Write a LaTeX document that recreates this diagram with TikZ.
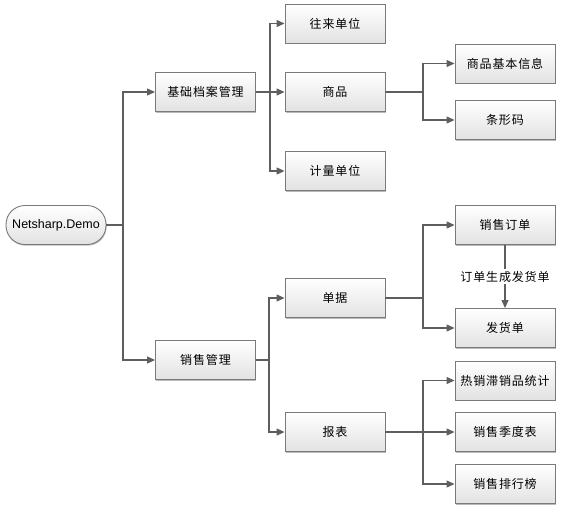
\documentclass[tikz,border=0pt]{standalone}
\usepackage{fontspec}
\setmainfont{Liberation Sans}
\newfontfamily\cjk[LetterSpace=7]{Noto Sans CJK SC}
\usetikzlibrary{arrows.meta,shadows}
\definecolor{linegray}{HTML}{5E5E5E}
\definecolor{boxborder}{HTML}{7A7A7A}
\definecolor{boxbottom}{HTML}{E2E2E2}
\tikzset{
  box/.style={draw=boxborder, line width=0.9pt, top color=white, bottom color=boxbottom,
    minimum width=100pt, minimum height=39pt, inner sep=0pt,
    font=\cjk\fontsize{12}{14}\selectfont,
    drop shadow={shadow xshift=0.6pt, shadow yshift=-1.2pt, fill=black!45, opacity=0.6}},
  rootbox/.style={box, rounded corners=19pt, font=\fontsize{12.5}{14}\selectfont},
  conn/.style={draw=linegray, line width=1.1pt},
  arr/.style={conn, -{Triangle[length=8pt,width=7pt]}},
  lbl/.style={fill=white, inner sep=1.5pt, font=\cjk\fontsize{12}{14}\selectfont}
}
\begin{document}
\begin{tikzpicture}[x=1pt,y=-1pt]
\useasboundingbox (0,0) rectangle (569,509);
% nodes
\node[rootbox] (root) at (56,225) {Netsharp.Demo};
\node[box] (jc) at (205.5,92) {基础档案管理};
\node[box] (xs) at (205.5,360) {销售管理};
\node[box] (wl) at (335,23.5) {往来单位};
\node[box] (sp) at (335,92) {商品};
\node[box] (jl) at (335,171) {计量单位};
\node[box] (dj) at (335,298) {单据};
\node[box] (bb) at (335,432) {报表};
\node[box] (spxx) at (505,63.5) {商品基本信息};
\node[box] (txm) at (505,120) {条形码};
\node[box] (xsdd) at (505,225) {销售订单};
\node[box] (fhd) at (505,328) {发货单};
\node[box] (rx) at (505,380.5) {热销滞销品统计};
\node[box] (jd) at (505,432) {销售季度表};
\node[box] (ph) at (505,484) {销售排行榜};
% trunk coordinates
\coordinate (t1) at (123,225);
\coordinate (t2) at (270,92);
\coordinate (t3) at (269,360);
\coordinate (t4) at (423,92);
\coordinate (t5) at (423,298);
\coordinate (t6) at (423,432);
% connectors
\draw[conn] (root.east) -- (t1);
\draw[arr] (t1) |- (jc.west);
\draw[arr] (t1) |- (xs.west);
\draw[arr] (jc.east) -- (sp.west);
\draw[arr] (t2) |- (wl.west);
\draw[arr] (t2) |- (jl.west);
\draw[arr] (xs.east) -| (t3) |- (dj.west);
\draw[arr] (t3) |- (bb.west);
\draw[conn] (sp.east) -- (t4);
\draw[arr] (t4) |- (spxx.west);
\draw[arr] (t4) |- (txm.west);
\draw[conn] (dj.east) -- (t5);
\draw[arr] (t5) |- (xsdd.west);
\draw[arr] (t5) |- (fhd.west);
\draw[arr] (bb.east) -- (jd.west);
\draw[arr] (t6) |- (rx.west);
\draw[arr] (t6) |- (ph.west);
\draw[arr] (xsdd.south) -- node[lbl] (lab) {订单生成发货单} (fhd.north);
\end{tikzpicture}
\end{document}
